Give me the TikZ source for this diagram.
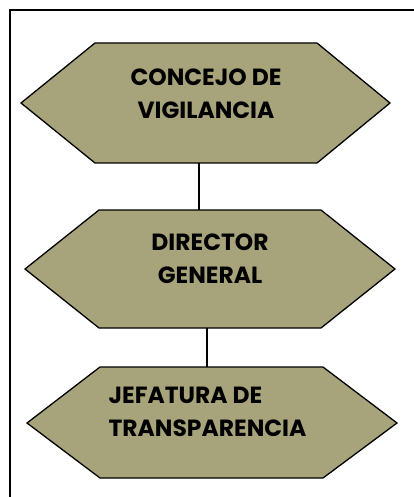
\documentclass[tikz,border=0pt]{standalone}
\usepackage{fontspec}
\setmainfont{Poppins}
\definecolor{khaki}{RGB}{167,163,122}
\tikzset{
  hexa/.style={draw=black, line width=1.3pt, fill=khaki, line join=miter},
  label/.style={font=\bfseries\fontsize{23.5}{33}\selectfont, align=center, inner sep=0pt},
  link/.style={draw=black, line width=1.3pt},
}
\begin{document}
\begin{tikzpicture}[x=1bp,y=-1bp]
\useasboundingbox (0,0) rectangle (413,497);
\draw[line width=2pt] (10,520) -- (10,10) -- (430,10);
% hexagon 1
\draw[hexa] (21,103) -- (95,43) -- (317,43) -- (390,103) -- (317,163) -- (95,163) -- cycle;
\coordinate (h1b) at (199,163);
\node[label] (t1) at (206,94) {CONCEJO DE\\VIGILANCIA};
% hexagon 2
\draw[hexa] (25,269) -- (99,210) -- (321,210) -- (395,269) -- (321,328) -- (99,328) -- cycle;
\coordinate (h2t) at (199,210);
\coordinate (h2b) at (207,328);
\node[label] (t2) at (210,259) {DIRECTOR\\GENERAL};
% hexagon 3
\draw[hexa] (27,423) -- (100,367) -- (323,367) -- (397,423) -- (323,478) -- (100,478) -- cycle;
\coordinate (h3t) at (207,367);
\node[label, align=left] (t3) at (207.5,412) {JEFATURA DE\\TRANSPARENCIA};
\draw[link] (h1b) -- (h2t);
\draw[link] (h2b) -- (h3t);
\end{tikzpicture}
\end{document}
